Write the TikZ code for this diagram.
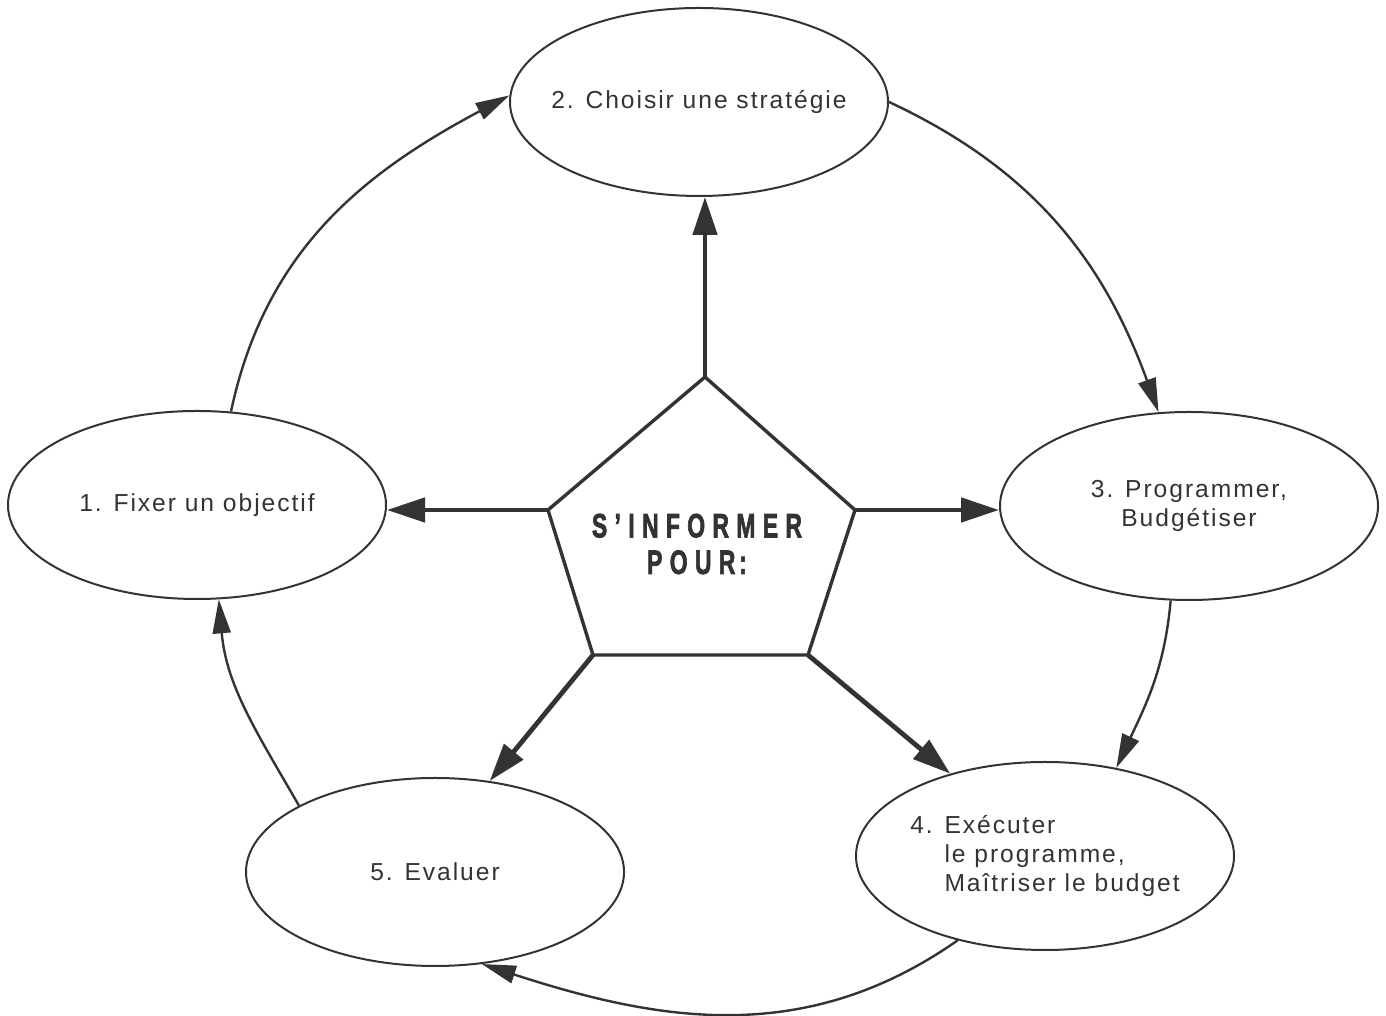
\documentclass[tikz,border=0pt]{standalone}
\usepackage{fontspec}
\usepackage{graphicx}
\usepackage{tikz}
\usetikzlibrary{shapes,arrows.meta,positioning,calc}
\newfontfamily\stagefont{Liberation Sans}[LetterSpace=8]
\newfontfamily\hubfont{Liberation Sans Bold}[FakeBold=2.5,LetterSpace=32]
\newcommand{\narrow}[1]{\scalebox{0.68}[1]{#1}}
\definecolor{ink}{gray}{0.2}

\begin{document}
\begin{tikzpicture}[
    x=0.25mm, y=0.25mm,
    stage/.style={ellipse, draw=ink, line width=0.5mm, minimum width=94.5mm, minimum height=47mm, inner xsep=-15mm, inner ysep=0pt, text=ink, align=center, font=\stagefont\fontsize{17.5}{20.5}\selectfont},
    hub_text/.style={text=ink, align=center, font=\hubfont\fontsize{24}{26}\selectfont},
    loop_arrow/.style={-{Triangle[length=8.5mm, width=4.5mm]}, draw=ink, line width=0.6mm},
    spoke_arrow/.style={-{Triangle[length=9.5mm, width=6mm]}, draw=ink, line width=1.2mm}
]
\useasboundingbox (0,0) rectangle (1386,1016);

% Stages
\node[stage] (fixer) at (197,511) {1. Fixer un objectif};
\node[stage] (choisir) at (699,914) {2. Choisir une stratégie};
\node[stage] (programmer) at (1189,510) {3. Programmer,\\Budgétiser};
\node[stage, align=left] (executer) at (1045,160) {4. Exécuter\\\hphantom{4. }le programme,\\\hphantom{4. }Maîtriser le budget};
\node[stage] (evaluer) at (435,144) {5. Evaluer};

% Central pentagon
\coordinate (ptop) at (705,639);
\coordinate (pright) at (855,506);
\coordinate (pbr) at (808,361);
\coordinate (pbl) at (593,361);
\coordinate (pleft) at (548,506);
\draw[ink, line width=0.85mm] (ptop) -- (pright) -- (pbr) -- (pbl) -- (pleft) -- cycle;
\node[hub_text] (hub) at (697,472) {\narrow{S’INFORMER}\\\narrow{POUR\,:}};

% Arrows - from the centre
\draw[spoke_arrow] (ptop) -- (ptop |- choisir.south);
\draw[spoke_arrow] (pleft) -- (pleft -| fixer.east);
\draw[spoke_arrow] (pright) -- (pright -| programmer.west);
\draw[spoke_arrow] (pbl) -- (evaluer.59);
\draw[spoke_arrow] (pbr) -- (executer.139);

% Arrows - cycle
\draw[loop_arrow] (fixer.70) to[out=78, in=208] (choisir.178);
\draw[loop_arrow] (choisir.0) to[out=-25, in=110] (programmer.108);
\draw[loop_arrow] (programmer.259) to[out=265, in=65] (executer.51);
\draw[loop_arrow] (executer.224) to[out=215, in=-18] (evaluer.297);
\draw[loop_arrow] (evaluer.154) to[out=120, in=275] (fixer.283);

\end{tikzpicture}
\end{document}
